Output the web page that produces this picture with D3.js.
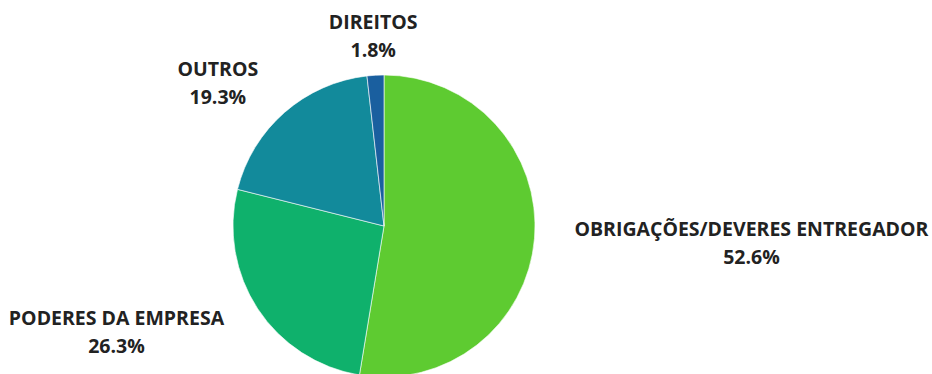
<!DOCTYPE html>
<html>
<head>
<meta charset="utf-8">
<script src="https://cdn.jsdelivr.net/npm/d3@7"></script>
<style>
  html, body { margin: 0; padding: 0; background: #fff; }
  svg text { font-family: "Open Sans", sans-serif; font-weight: 700; fill: #222; }
</style>
</head>
<body>
<svg id="chart" width="932" height="374"></svg>
<script>
// categories and values, clockwise from 12 o'clock
const categories = ['OBRIGAÇÕES/DEVERES ENTREGADOR', 'PODERES DA EMPRESA', 'OUTROS', 'DIREITOS']
const values = [52.6, 26.3, 19.3, 1.8]
const colors = ['#5ecb31', '#0fb16c', '#128a9b', '#1a5f9f']

const svg = d3.select('#chart')
const cx = 384, cy = 226, radius = 151, labelGap = 40, lineH = 28

const pie = d3.pie().sort(null).value(d => d.value)
const arc = d3.arc().innerRadius(0).outerRadius(radius)
const labelArc = d3.arc().innerRadius(radius + labelGap).outerRadius(radius + labelGap)

const data = categories.map((c, i) => ({name: c, value: values[i], color: colors[i]}))
const arcs = pie(data)

const g = svg.append('g').attr('transform', `translate(${cx},${cy})`)

g.selectAll('path.slice')
  .data(arcs)
  .enter()
  .append('path')
  .attr('class', 'slice')
  .attr('d', arc)
  .attr('fill', d => d.data.color)
  .attr('stroke', '#fff')
  .attr('stroke-width', 0.6)

arcs.forEach(d => {
  const [px, py] = labelArc.centroid(d)
  const mid = (d.startAngle + d.endAngle) / 2
  const s = Math.sin(mid)
  const lbl = g.append('text').attr('text-anchor', 'middle').style('font-size', '19.5px')
  lbl.append('tspan').attr('x', 0).attr('dy', 0).text(d.data.name)
  lbl.append('tspan').attr('x', 0).attr('dy', lineH).text(d.data.value.toFixed(1) + '%')
  const w = lbl.node().getBBox().width
  let x = px
  if (Math.abs(s) > 0.2) x = px + Math.sign(s) * w / 2
  const y = py - 6
  lbl.attr('transform', `translate(${x},${y})`)
})
</script>
</body>
</html>
